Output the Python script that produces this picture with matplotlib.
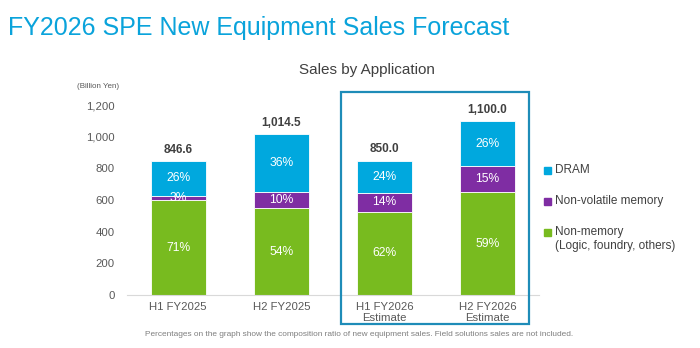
import matplotlib.pyplot as plt
import numpy as np
from matplotlib.patches import Rectangle

plt.rcParams['font.family'] = ['Liberation Sans', 'DejaVu Sans']

# Dane (mld jenów) i udziały procentowe
periods = ['H1 FY2025', 'H2 FY2025', 'H1 FY2026\nEstimate', 'H2 FY2026\nEstimate']
totals = [846.6, 1014.5, 850.0, 1100.0]
total_labels = ['846.6', '1,014.5', '850.0', '1,100.0']
pct_nonmemory = [71, 54, 62, 59]
pct_nonvolatile = [3, 10, 14, 15]
pct_dram = [26, 36, 24, 26]

series = [
    ('Non-memory\n(Logic, foundry, others)', pct_nonmemory, '#78BB1F'),
    ('Non-volatile memory', pct_nonvolatile, '#7F2DA3'),
    ('DRAM', pct_dram, '#00A8DE'),
]

fig = plt.figure(figsize=(7, 3.48), dpi=100)
ax = fig.add_axes([0.181, 0.152, 0.589, 0.546])

x = np.arange(len(periods))
bottom = np.zeros(len(periods))
tot = np.array(totals)
for name, pct, color in series:
    vals = tot * np.array(pct) / 100
    ax.bar(x, vals, 0.53, bottom=bottom, color=color, edgecolor='white', linewidth=0.6)
    for xi, b, v, p in zip(x, bottom, vals, pct):
        ax.text(xi, b + v / 2, f'{p}%', ha='center', va='center', color='white', fontsize=8.7)
    bottom = bottom + vals

for xi, t, lab in zip(x, totals, total_labels):
    ax.text(xi, t + 32, lab, ha='center', va='bottom', color='#404040',
            fontsize=8.5, fontweight='bold')

ax.set_xlim(-0.5, 3.5)
ax.set_ylim(0, 1200)
ax.set_yticks(np.arange(0, 1201, 200))
ax.set_yticklabels([f'{v:,}' for v in range(0, 1201, 200)])
ax.set_xticks(x)
ax.set_xticklabels(periods, linespacing=1.15)
ax.tick_params(axis='both', length=0, labelsize=8.2, colors='#595959')
ax.tick_params(axis='y', pad=8.5)
ax.tick_params(axis='x', pad=5)
for s in ['top', 'right', 'left']:
    ax.spines[s].set_visible(False)
ax.spines['bottom'].set_color('#D9D9D9')
ax.spines['bottom'].set_linewidth(0.8)

# ramka wokół prognoz
fig.add_artist(Rectangle((341 / 700, 1 - 324 / 348), 188 / 700, 232 / 348,
                         transform=fig.transFigure, fill=False,
                         edgecolor='#1E8CB8', linewidth=1.6))

# legenda
leg_items = [('DRAM', '#00A8DE', 170.7),
             ('Non-volatile memory', '#7F2DA3', 201.7),
             ('Non-memory\n(Logic, foundry, others)', '#78BB1F', 232.7)]
for name, color, yp in leg_items:
    fig.add_artist(Rectangle((544 / 700, 1 - (yp + 3) / 348), 6.5 / 700, 6.5 / 348,
                             transform=fig.transFigure, color=color))
    fig.text(555 / 700, 1 - (yp - 7) / 348, name, ha='left', va='top',
             color='#404040', fontsize=8.5, linespacing=1.3)

fig.text(8 / 700, 1 - 28 / 348, 'FY2026 SPE New Equipment Sales Forecast',
         ha='left', va='center', color='#0AA3DB', fontsize=18)
fig.text(367 / 700, 1 - 70 / 348, 'Sales by Application', ha='center', va='center',
         color='#404040', fontsize=11)
fig.text(98 / 700, 1 - 87 / 348, '(Billion Yen)', ha='center', va='center',
         color='#595959', fontsize=5.8)
fig.text(359 / 700, 1 - 334 / 348,
         'Percentages on the graph show the composition ratio of new equipment sales. '
         'Field solutions sales are not included.',
         ha='center', va='center', color='#7F7F7F', fontsize=5.95)

plt.savefig('out.png', dpi=100)
